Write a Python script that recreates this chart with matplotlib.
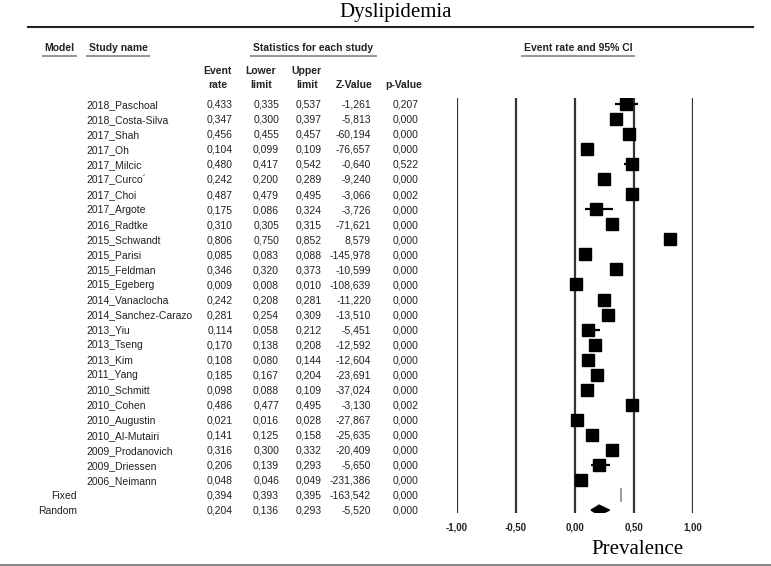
import matplotlib
matplotlib.use('Agg')
import matplotlib.pyplot as plt
import matplotlib.transforms as mtransforms
from matplotlib.lines import Line2D
from matplotlib.patches import Polygon

# data
studies = ['2018_Paschoal', '2018_Costa-Silva', '2017_Shah', '2017_Oh', '2017_Milcic',
           '2017_Curco\u00b4', '2017_Choi', '2017_Argote', '2016_Radtke', '2015_Schwandt',
           '2015_Parisi', '2015_Feldman', '2015_Egeberg', '2014_Vanaclocha',
           '2014_Sanchez-Carazo', '2013_Yiu', '2013_Tseng', '2013_Kim', '2011_Yang',
           '2010_Schmitt', '2010_Cohen', '2010_Augustin', '2010_Al-Mutairi',
           '2009_Prodanovich', '2009_Driessen', '2006_Neimann']
event_rate = [0.433, 0.347, 0.456, 0.104, 0.480, 0.242, 0.487, 0.175, 0.310, 0.806,
              0.085, 0.346, 0.009, 0.242, 0.281, 0.114, 0.170, 0.108, 0.185, 0.098,
              0.486, 0.021, 0.141, 0.316, 0.206, 0.048]
lower = [0.335, 0.300, 0.455, 0.099, 0.417, 0.200, 0.479, 0.086, 0.305, 0.750,
         0.083, 0.320, 0.008, 0.208, 0.254, 0.058, 0.138, 0.080, 0.167, 0.088,
         0.477, 0.016, 0.125, 0.300, 0.139, 0.046]
upper = [0.537, 0.397, 0.457, 0.109, 0.542, 0.289, 0.495, 0.324, 0.315, 0.852,
         0.088, 0.373, 0.010, 0.281, 0.309, 0.212, 0.208, 0.144, 0.204, 0.109,
         0.495, 0.028, 0.158, 0.332, 0.293, 0.049]
z_value = [-1.261, -5.813, -60.194, -76.657, -0.640, -9.240, -3.066, -3.726, -71.621, 8.579,
           -145.978, -10.599, -108.639, -11.220, -13.510, -5.451, -12.592, -12.604, -23.691,
           -37.024, -3.130, -27.867, -25.635, -20.409, -5.650, -231.386]
p_value = [0.207, 0.000, 0.000, 0.000, 0.522, 0.000, 0.002, 0.000, 0.000, 0.000,
           0.000, 0.000, 0.000, 0.000, 0.000, 0.000, 0.000, 0.000, 0.000, 0.000,
           0.002, 0.000, 0.000, 0.000, 0.000, 0.000]

models = ['Fixed', 'Random']
model_rate = [0.394, 0.204]
model_lower = [0.393, 0.136]
model_upper = [0.395, 0.293]
model_z = [-163.542, -5.520]
model_p = [0.000, 0.000]

xticks = [-1.0, -0.5, 0.0, 0.5, 1.0]
xtick_labels = ['-1,00', '-0,50', '0,00', '0,50', '1,00']

W, H = 771, 566


def fx(px):
    return px / W


def fy(py):
    return 1 - py / H


def fmt(v):
    return f'{v:.3f}'.replace('.', ',')


SANS = ['Liberation Sans', 'DejaVu Sans']
SERIF = ['Liberation Serif', 'DejaVu Serif']

fig = plt.figure(figsize=(W / 100, H / 100), dpi=100)

n = len(studies)
row_h = 15.04
top_px, bot_px, first_px = 98, 513, 104

ax = fig.add_axes([fx(457), fy(bot_px), (693 - 457) / W, (bot_px - top_px) / H])
ax.set_xlim(-1, 1)
ax.set_ylim((bot_px - first_px) / row_h, (top_px - first_px) / row_h)
for s in ax.spines.values():
    s.set_visible(False)
ax.set_yticks([])
ax.set_xticks(xticks)
ax.set_xticklabels(xtick_labels, fontsize=7, fontweight='bold', family=SANS, color='#222222')
ax.tick_params(axis='x', length=0, pad=7)

for xv in xticks:
    ax.axvline(xv, color='#333333', lw=1.6, zorder=1)

rows = list(range(n))
ax.hlines(rows, lower, upper, color='black', lw=1.6, zorder=2)
ax.plot(event_rate, rows, linestyle='none', marker='s', markersize=9,
        color='black', zorder=3)

# fixed effect: thin grey tick, random effect: diamond
ax.plot([model_rate[0], model_rate[0]], [n - 0.42, n + 0.42], color='#888888', lw=1.2)
r = n + 1
ax.add_patch(Polygon([[model_lower[1], r], [model_rate[1], r - 0.33],
                      [model_upper[1], r], [model_rate[1], r + 0.33]],
                     closed=True, color='black', zorder=3))

# table text, on a common baseline per row
tr = mtransforms.blended_transform_factory(fig.transFigure, ax.transData)
base = 0.25
col_right = [233, 279, 322, 371, 419]
tk = dict(fontsize=7.5, family=SANS, color='#222222', va='baseline', transform=tr)
for i in range(n):
    fig.text(fx(86), i + base, studies[i], ha='left', **tk)
    vals = [fmt(event_rate[i]), fmt(lower[i]), fmt(upper[i]), fmt(z_value[i]), fmt(p_value[i])]
    for xr, v in zip(col_right, vals):
        fig.text(fx(xr), i + base, v, ha='right', **tk)
for j, m in enumerate(models):
    yy = n + j + base
    fig.text(fx(77), yy, m, ha='right', **tk)
    vals = [fmt(model_rate[j]), fmt(model_lower[j]), fmt(model_upper[j]),
            fmt(model_z[j]), fmt(model_p[j])]
    for xr, v in zip(col_right, vals):
        fig.text(fx(xr), yy, v, ha='right', **tk)

# column headers
hk = dict(fontsize=7.5, family=SANS, fontweight='bold', color='#222222',
          va='center', ha='right', multialignment='center')
col_heads = ['Event\nrate', 'Lower\nlimit', 'Upper\nlimit', '\nZ-Value', '\np-Value']
for xr, h in zip([232, 276, 322, 372, 422], col_heads):
    fig.text(fx(xr), fy(78), h, linespacing=1.45, **hk)

# section headers with underline
sections = [('Model', 43, 76), ('Study name', 87, 149),
            ('Statistics for each study', 251, 376), ('Event rate and 95% CI', 522, 634)]
for label, x0, x1 in sections:
    fig.text(fx((x0 + x1) / 2), fy(48), label, ha='center', va='center',
             fontsize=7.5, family=SANS, fontweight='bold', color='#222222')
    fig.add_artist(Line2D([fx(x0), fx(x1)], [fy(56), fy(56)], color='#999999', lw=1.5))

# title, rules and x label
fig.text(fx(396), fy(12), 'Dyslipidemia', ha='center', va='center', fontsize=15, family=SERIF)
fig.add_artist(Line2D([fx(28), fx(753)], [fy(27), fy(27)], color='#222222', lw=1.5))
fig.add_artist(Line2D([0, 1], [fy(564.5), fy(564.5)], color='#888888', lw=1.5))
fig.text(fx(637), fy(550), 'Prevalence', ha='center', va='center', fontsize=15, family=SERIF)

fig.savefig('out.png', dpi=100)
